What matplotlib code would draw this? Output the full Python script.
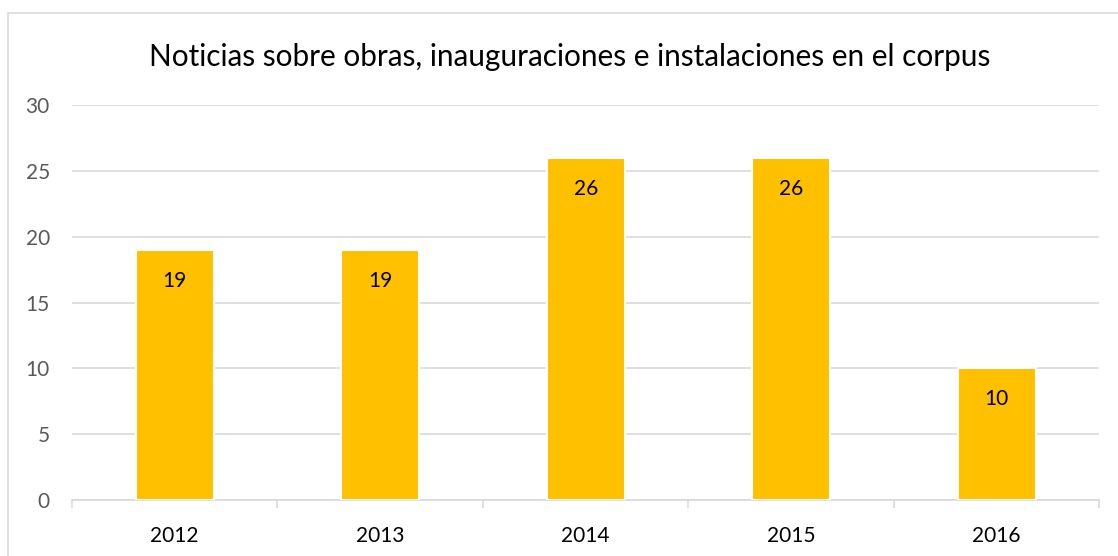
import matplotlib
matplotlib.use('Agg')
from matplotlib import pyplot as plt
from matplotlib.patches import Rectangle

years = ['2012', '2013', '2014', '2015', '2016']
counts = [19, 19, 26, 26, 10]
yticks = [0, 5, 10, 15, 20, 25, 30]

plt.rcParams['font.family'] = ['Lato', 'DejaVu Sans']

fig = plt.figure(figsize=(11.18, 5.56), dpi=100)
ax = fig.add_axes([0.0644, 0.1007, 0.9190, 0.7104])

# chart border, running off the right and bottom edges
fig.patches.append(Rectangle((8 / 1118, -0.05), 1.2, 1 - 13 / 556 + 0.05,
                             transform=fig.transFigure, fill=False,
                             edgecolor='#d9d9d9', linewidth=1.2))

x = range(len(years))
bars = ax.bar(x, counts, width=0.38, color='#ffc000', edgecolor='white',
              linewidth=1.5, zorder=3)
for b, v in zip(bars, counts):
    ax.text(b.get_x() + b.get_width() / 2, v - 2.35, str(v), ha='center',
            va='center', fontsize=15, color='black', zorder=4)

ax.set_xlim(-0.5, len(years) - 0.5)
ax.set_ylim(0, 30)
ax.set_yticks(yticks)
ax.set_yticklabels([str(t) for t in yticks], fontsize=15, color='#595959')
ax.yaxis.grid(True, color='#d9d9d9', linewidth=1.2, zorder=0)
ax.tick_params(axis='y', length=0, pad=16)

ax.set_xticks(list(x))
ax.set_xticklabels(years, fontsize=15, color='black')
ax.set_xticks([i - 0.5 for i in range(len(years) + 1)], minor=True)
ax.tick_params(axis='x', which='major', length=0, pad=19)
ax.tick_params(axis='x', which='minor', length=6, color='#d9d9d9', width=1.2)

for s in ['top', 'right', 'left']:
    ax.spines[s].set_visible(False)
ax.spines['bottom'].set_color('#d9d9d9')
ax.spines['bottom'].set_linewidth(1.2)

fig.text(570 / 1118, 1 - 57 / 556, 'Noticias sobre obras, inauguraciones e instalaciones en el corpus',
         ha='center', va='center', fontsize=21.4, color='black')

fig.savefig('out.png', dpi=100)
